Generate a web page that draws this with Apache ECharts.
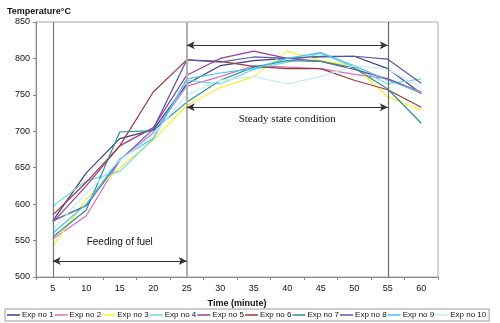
<!DOCTYPE html>
<html>
<head>
<meta charset="utf-8">
<script src="https://cdn.jsdelivr.net/npm/echarts@6/dist/echarts.min.js"></script>
<style>
  html, body { margin: 0; padding: 0; background: #fff; }
  #main { width: 500px; height: 323px; }
</style>
</head>
<body>
<div id="main"></div>
<script>
var times = ['5', '10', '15', '20', '25', '30', '35', '40', '45', '50', '55', '60'];

var exp1 = [577, 643, 690, 702, 765, 790, 797, 800, 802, 803, 786, 752];
var exp2 = [552, 584, 660, 698, 762, 775, 790, 788, 786, 778, 772, 752];
var exp3 = [542, 607, 650, 688, 735, 760, 775, 810, 797, 790, 747, 729];
var exp4 = [597, 632, 645, 690, 770, 765, 785, 795, 807, 788, 765, 772];
var exp5 = [575, 625, 680, 705, 777, 800, 810, 800, 796, 785, 772, 754];
var exp6 = [585, 630, 680, 754, 798, 796, 789, 786, 786, 770, 757, 733];
var exp7 = [555, 592, 699, 701, 740, 770, 788, 797, 796, 787, 758, 711];
var exp8 = [577, 598, 660, 703, 798, 795, 802, 800, 803, 803, 799, 766];
var exp9 = [560, 600, 662, 690, 772, 780, 786, 800, 808, 790, 770, 754];
var exp10 = [565, 615, 660, 695, 750, 770, 775, 765, 775, 790, 785, 760];

var names = ['Exp no 1', 'Exp no 2', 'Exp no 3', 'Exp no 4', 'Exp no 5',
             'Exp no 6', 'Exp no 7', 'Exp no 8', 'Exp no 9', 'Exp no 10'];
var colors = ['#3c3c8c', '#d070c8', '#f8f030', '#70d8ec', '#9a3c9a',
              '#9a3a3a', '#2f9090', '#5858a8', '#40c4f0', '#c8ecf8'];
var allData = [exp1, exp2, exp3, exp4, exp5, exp6, exp7, exp8, exp9, exp10];

// arrow levels / annotations
var steadyTop = 818, steadyBottom = 733, feedLevel = 522;

var chart = echarts.init(document.getElementById('main'), null, { renderer: 'canvas' });

var series = allData.map(function (d, i) {
    return {
        name: names[i],
        type: 'line',
        data: d,
        symbol: 'none',
        lineStyle: { width: 1.2, color: colors[i] },
        itemStyle: { color: colors[i] },
        z: 3
    };
});

// vertical guide lines
series.push({
    type: 'line',
    data: [],
    silent: true,
    markLine: {
        silent: true,
        symbol: ['none', 'none'],
        label: { show: false },
        data: [
            { xAxis: '5', lineStyle: { color: '#777', width: 1.2, type: 'solid' } },
            { xAxis: '25', lineStyle: { color: '#b0b0b0', width: 2, type: 'solid' } },
            { xAxis: '55', lineStyle: { color: '#666', width: 1.2, type: 'solid' } }
        ]
    }
});
// arrows
series.push({
    type: 'line',
    data: [],
    silent: true,
    markLine: {
        silent: true,
        symbol: ['arrow', 'arrow'],
        symbolSize: [6, 8],
        lineStyle: { color: '#333', width: 1.2, type: 'solid' },
        data: [
            [{ coord: ['25', steadyTop] }, { coord: ['55', steadyTop] }],
            [{ coord: ['25', steadyBottom],
               label: { show: true, position: 'insideMiddleBottom', distance: 6,
                        formatter: 'Steady state condition',
                        fontFamily: 'Liberation Serif', fontSize: 11, color: '#111' } },
             { coord: ['55', steadyBottom] }],
            [{ coord: ['5', feedLevel],
               label: { show: true, position: 'insideMiddleTop', distance: 14,
                        formatter: 'Feeding of fuel',
                        fontFamily: 'Liberation Sans', fontSize: 10, color: '#111' } },
             { coord: ['25', feedLevel] }]
        ],
        label: { show: false }
    }
});

var option = {
    backgroundColor: '#fff',
    animation: false,
    textStyle: { fontFamily: 'Liberation Sans' },
    title: {
        text: 'Temperature°C',
        left: 2,
        top: 2,
        textStyle: { fontSize: 9, fontWeight: 'bold', color: '#111', fontFamily: 'Liberation Sans' }
    },
    color: colors,
    legend: {
        data: names,
        bottom: 2,
        left: 5,
        width: 492,
        padding: [2, 3, 2, 2],
        icon: 'rect',
        itemWidth: 13,
        itemHeight: 1.5,
        itemGap: 1,
        borderColor: '#999',
        borderWidth: 1,
        textStyle: { fontSize: 8, color: '#111', padding: [0, 0, 0, -3] }
    },
    grid: {
        left: 36,
        right: 62,
        top: 22,
        bottom: 46,
        show: true,
        borderColor: '#aaa',
        borderWidth: 1
    },
    xAxis: {
        type: 'category',
        data: times,
        boundaryGap: true,
        name: 'Time (minute)',
        nameLocation: 'middle',
        nameGap: 22,
        nameTextStyle: { fontSize: 9, fontWeight: 'bold', color: '#111' },
        axisLine: { lineStyle: { color: '#888' } },
        axisTick: { show: true, alignWithLabel: false, length: 3, lineStyle: { color: '#888' } },
        axisLabel: { fontSize: 9, color: '#111', margin: 7 },
        splitLine: { show: false }
    },
    yAxis: {
        type: 'value',
        min: 500,
        max: 850,
        interval: 50,
        axisLine: { show: true, lineStyle: { color: '#888' } },
        axisTick: { show: true, length: 3, lineStyle: { color: '#888' } },
        axisLabel: { fontSize: 9, color: '#111', margin: 6 },
        splitLine: { show: false }
    },
    series: series
};

chart.setOption(option);
</script>
</body>
</html>
